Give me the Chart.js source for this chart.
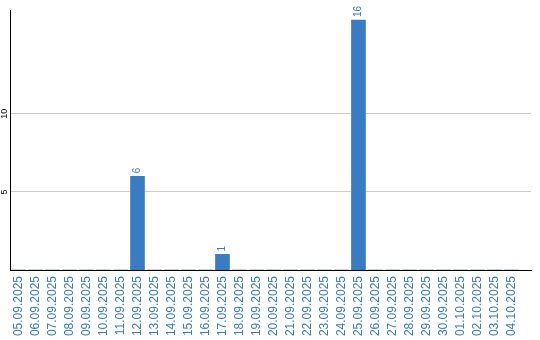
<!DOCTYPE html>
<html>
<head>
<meta charset="utf-8">
<script src="https://cdn.jsdelivr.net/npm/chart.js@4"></script>
<style>
  html, body { margin: 0; padding: 0; background: #fff; }
  canvas { display: block; }
</style>
</head>
<body>
<canvas id="c" width="540" height="340"></canvas>
<script>
// Tageswerte 05.09.2025 - 04.10.2025
const dates = [
  '05.09.2025','06.09.2025','07.09.2025','08.09.2025','09.09.2025','10.09.2025',
  '11.09.2025','12.09.2025','13.09.2025','14.09.2025','15.09.2025','16.09.2025',
  '17.09.2025','18.09.2025','19.09.2025','20.09.2025','21.09.2025','22.09.2025',
  '23.09.2025','24.09.2025','25.09.2025','26.09.2025','27.09.2025','28.09.2025',
  '29.09.2025','30.09.2025','01.10.2025','02.10.2025','03.10.2025','04.10.2025'
];
const counts = [
  0,0,0,0,0,0,
  0,6,0,0,0,0,
  1,0,0,0,0,0,
  0,0,16,0,0,0,
  0,0,0,0,0,0
];
const yTicks = [5, 10];
const yMax = 16.64;

const BLUE = '#3a7cc1';
const FONT = '"Liberation Sans", Arial, sans-serif';

// Werte über den Balken + gedrehte Y-Beschriftung
const labelPlugin = {
  id: 'labels',
  afterDatasetsDraw(chart){
    const ctx = chart.ctx;
    const meta = chart.getDatasetMeta(0);
    ctx.save();
    ctx.fillStyle = BLUE;
    ctx.font = '10px ' + FONT;
    ctx.textAlign = 'left';
    ctx.textBaseline = 'middle';
    meta.data.forEach((bar, i) => {
      const v = counts[i];
      if (!v) return;
      ctx.save();
      ctx.translate(bar.x, bar.y - 3);
      ctx.rotate(-Math.PI / 2);
      ctx.fillText(String(v), 0, 0);
      ctx.restore();
    });
    const ys = chart.scales.y;
    ctx.fillStyle = '#000';
    ctx.font = '9px ' + FONT;
    ctx.textAlign = 'center';
    yTicks.forEach(v => {
      ctx.save();
      ctx.translate(4.5, ys.getPixelForValue(v));
      ctx.rotate(-Math.PI / 2);
      ctx.fillText(String(v), 0, 0);
      ctx.restore();
    });
    ctx.restore();
  }
};

new Chart(document.getElementById('c').getContext('2d'), {
  type: 'bar',
  data: {
    datasets: [{
      data: counts.map((c, i) => ({ x: i, y: c })),
      backgroundColor: BLUE,
      borderWidth: 0,
      barThickness: 14
    }]
  },
  options: {
    responsive: false,
    animation: false,
    layout: { padding: { left: 10, top: 10, right: 9, bottom: 0 } },
    plugins: { legend: { display: false }, tooltip: { enabled: false } },
    scales: {
      x: {
        type: 'linear',
        min: -0.5,
        max: 30.15,
        offset: false,
        grid: { display: false, drawTicks: false },
        border: { display: true, color: '#000', width: 1 },
        afterBuildTicks: s => { s.ticks = dates.map((d, i) => ({ value: i })); },
        afterFit: s => { s.height = 70; },
        ticks: {
          autoSkip: false,
          minRotation: 90,
          maxRotation: 90,
          padding: 6,
          color: BLUE,
          font: { family: FONT, size: 12 },
          callback: v => dates[v]
        }
      },
      y: {
        min: 0,
        max: yMax,
        grid: { color: '#cccccc', drawTicks: false },
        border: { display: true, color: '#000', width: 1 },
        afterBuildTicks: s => { s.ticks = yTicks.map(v => ({ value: v })); },
        afterFit: s => { s.width = 0; },
        ticks: { display: false }
      }
    }
  },
  plugins: [labelPlugin]
});
</script>
</body>
</html>
